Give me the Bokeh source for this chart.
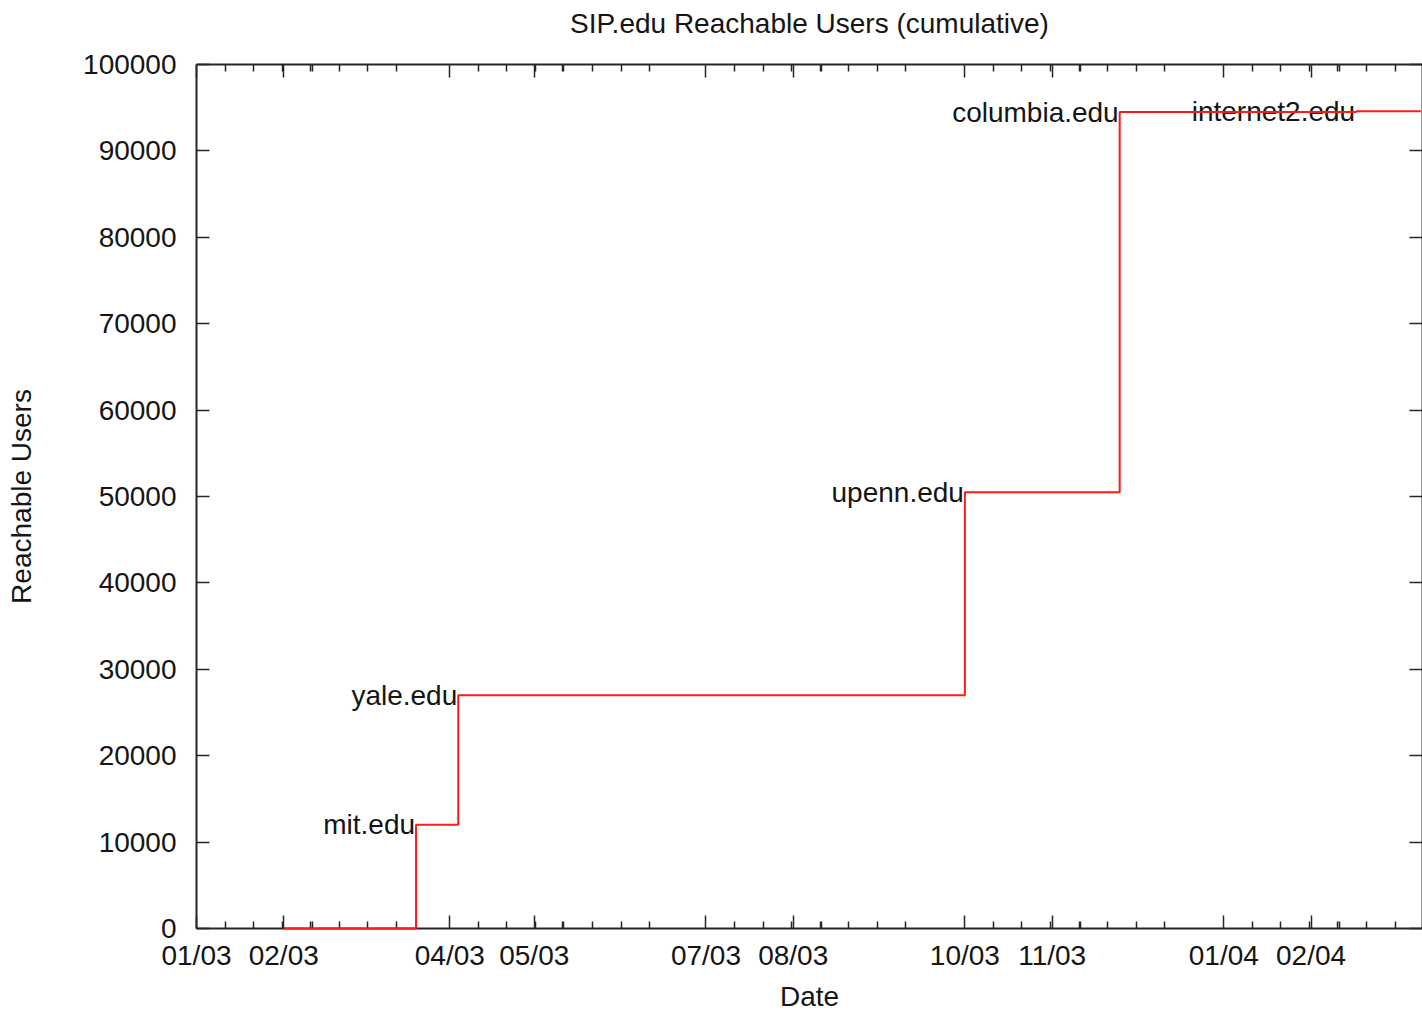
import pandas as pd
from bokeh.plotting import figure
from bokeh.models import (ColumnDataSource, DatetimeAxis, LinearAxis, FixedTicker,
                          DatetimeTickFormatter, NumeralTickFormatter, Range1d,
                          CustomJSTickFormatter)
from bokeh.core.properties import value
from bokeh.embed import file_html
from bokeh.resources import INLINE

# ---- data ----
dates = ["2003-02-01", "2003-03-20", "2003-04-04", "2003-10-01",
         "2003-11-25", "2004-02-17", "2004-03-11"]
users = [0, 12000, 27000, 50500, 94500, 94600, 94600]
sites = ["", "mit.edu", "yale.edu", "upenn.edu", "columbia.edu", "internet2.edu", ""]

title_text = "SIP.edu Reachable Users (cumulative)"
x_start = "2003-01-01"
x_end = "2004-03-11 14:00"
x_major = ["2003-01-01", "2003-02-01", "2003-04-01", "2003-05-01", "2003-07-01",
           "2003-08-01", "2003-10-01", "2003-11-01", "2004-01-01", "2004-02-01"]
quarter_starts = ["2003-01-01", "2003-04-01", "2003-07-01", "2003-10-01", "2004-01-01"]
second_months = ["2003-02-01", "2003-05-01", "2003-08-01", "2003-11-01", "2004-02-01"]
y_major = [0, 10000, 20000, 30000, 40000, 50000, 60000, 70000, 80000, 90000, 100000]

FONT = "Liberation Sans"
FS = "28px"
TXT = "#151515"
AX = "#262626"


def ms(s):
    return (pd.Timestamp(s) - pd.Timestamp("1970-01-01")) // pd.Timedelta("1ms")


end_ms = ms(x_end)
minor = []
step = pd.Timedelta(days=10.14)
for q in quarter_starts:
    for k in range(1, 8):
        minor.append(ms(pd.Timestamp(q) + k * step))
for m in second_months:
    minor.append(ms(pd.Timestamp(m) + step))
minor = sorted(t for t in minor if t <= end_ms)

src = ColumnDataSource(dict(x=pd.to_datetime(dates), y=users))
lab_idx = [i for i, s in enumerate(sites) if s]
lab_src = ColumnDataSource(dict(x=pd.to_datetime([dates[i] for i in lab_idx]),
                                y=[users[i] for i in lab_idx],
                                site=[sites[i] for i in lab_idx]))

p = figure(width=1422, height=1014, x_axis_type="datetime",
           x_range=Range1d(ms(x_start), end_ms), y_range=Range1d(0, 100000),
           output_backend="svg", toolbar_location=None,
           min_border_left=196, min_border_right=0, min_border_top=64,
           min_border_bottom=85)
p.grid.visible = False
p.outline_line_color = None
p.background_fill_color = "white"
p.border_fill_color = "white"

xt = FixedTicker(ticks=[ms(d) for d in x_major], minor_ticks=minor)
fmt_kw = {k: "%m/%y" for k in ["milliseconds", "seconds", "minsec", "minutes",
                                "hourmin", "hours", "days", "months", "years"]}
xfmt = DatetimeTickFormatter(**fmt_kw)
yt = FixedTicker(ticks=y_major, minor_ticks=[])
yfmt = NumeralTickFormatter(format="0")
blank = CustomJSTickFormatter(code="return '';")


def style(ax, labels=True):
    ax.axis_line_color = AX
    ax.axis_line_width = 2
    ax.major_tick_line_color = AX
    ax.minor_tick_line_color = AX
    ax.major_tick_line_width = 1.5
    ax.minor_tick_line_width = 1.5
    ax.major_tick_in = 13
    ax.major_tick_out = 0
    ax.minor_tick_in = 7
    ax.minor_tick_out = 0
    ax.major_label_text_font = FONT
    ax.major_label_text_color = TXT
    ax.axis_label_text_font = FONT
    ax.axis_label_text_font_size = FS
    ax.axis_label_text_font_style = "normal"
    ax.axis_label_text_color = TXT
    if labels:
        ax.major_label_text_font_size = FS
    else:
        ax.major_label_text_font_size = "1px"
        ax.major_label_standoff = 0


bx = p.xaxis[0]
bx.ticker = xt
bx.formatter = xfmt
style(bx)
bx.major_label_standoff = 11
bx.axis_label = "Date"
bx.axis_label_standoff = 7

ly = p.yaxis[0]
ly.ticker = yt
ly.formatter = yfmt
style(ly)
ly.major_label_standoff = 20
ly.axis_label = "Reachable Users"
ly.axis_label_standoff = 43

# top mirror axis; it also carries the chart title
top = DatetimeAxis(ticker=xt, formatter=blank)
style(top, labels=False)
top.axis_label = title_text
top.axis_label_standoff = 26
p.add_layout(top, "above")

right = LinearAxis(ticker=yt, formatter=blank)
style(right, labels=False)
p.add_layout(right, "right")

line = p.step(x="x", y="y", source=src, mode="after", line_color="#ff1a1a", line_width=2)
line.level = "overlay"
p.text(x="x", y="y", text="site", source=lab_src, text_align="right",
       text_baseline="middle", x_offset=-1,
       text_font=value(FONT), text_font_size=value(FS), text_color=TXT)

open("out.html", "w").write(file_html(p, INLINE))
